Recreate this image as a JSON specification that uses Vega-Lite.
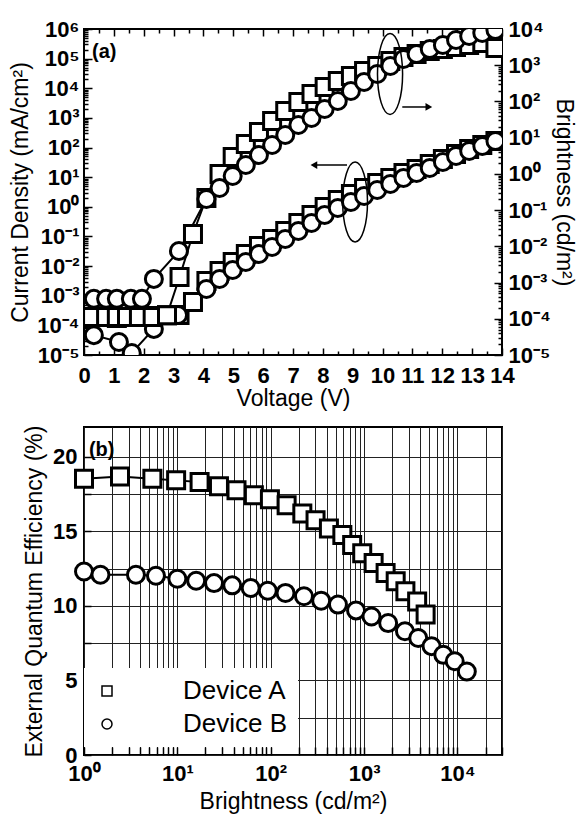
{
  "$schema": "https://vega.github.io/schema/vega-lite/v6.json",
  "background": "white",
  "padding": {"left": 8, "top": 17, "right": 2, "bottom": 2},
  "spacing": 13,
  "resolve": {"scale": {"shape": "independent"}, "legend": {"shape": "independent"}},
  "config": {
    "font": "Liberation Sans",
    "view": {"stroke": "black", "strokeWidth": 2},
    "axis": {
      "labelFont": "Liberation Sans", "labelFontWeight": "bold", "labelFontSize": 22, "labelColor": "black",
      "titleFont": "Liberation Sans", "titleFontWeight": "normal", "titleFontSize": 23, "titleColor": "black",
      "domain": false, "tickColor": "black", "tickWidth": 1.5, "grid": false,
      "labelOverlap": false, "labelBound": false, "labelFlush": false
    }
  },
  "datasets": {
    "jv": [
      {"device": "Device A", "V": 0.27, "J": 1.91e-4},
      {"device": "Device A", "V": 0.74, "J": 1.91e-4},
      {"device": "Device A", "V": 1.1, "J": 1.78e-4},
      {"device": "Device A", "V": 1.44, "J": 1.91e-4},
      {"device": "Device A", "V": 1.84, "J": 1.91e-4},
      {"device": "Device A", "V": 2.3, "J": 2.09e-4},
      {"device": "Device A", "V": 2.78, "J": 2.19e-4},
      {"device": "Device A", "V": 3.2, "J": 2.24e-4},
      {"device": "Device A", "V": 3.65, "J": 6.17e-4},
      {"device": "Device A", "V": 4.1, "J": 3.14e-3},
      {"device": "Device A", "V": 4.54, "J": 6.82e-3},
      {"device": "Device A", "V": 4.98, "J": 0.0137},
      {"device": "Device A", "V": 5.42, "J": 0.0256},
      {"device": "Device A", "V": 5.86, "J": 0.0476},
      {"device": "Device A", "V": 6.3, "J": 0.082},
      {"device": "Device A", "V": 6.74, "J": 0.153},
      {"device": "Device A", "V": 7.18, "J": 0.284},
      {"device": "Device A", "V": 7.62, "J": 0.528},
      {"device": "Device A", "V": 8.06, "J": 0.984},
      {"device": "Device A", "V": 8.5, "J": 1.69},
      {"device": "Device A", "V": 8.94, "J": 2.7},
      {"device": "Device A", "V": 9.38, "J": 4.31},
      {"device": "Device A", "V": 9.82, "J": 6.35},
      {"device": "Device A", "V": 10.26, "J": 9.38},
      {"device": "Device A", "V": 10.7, "J": 13.8},
      {"device": "Device A", "V": 11.14, "J": 18.8},
      {"device": "Device A", "V": 11.58, "J": 27.8},
      {"device": "Device A", "V": 12.02, "J": 41},
      {"device": "Device A", "V": 12.46, "J": 60.4},
      {"device": "Device A", "V": 12.9, "J": 89.1},
      {"device": "Device A", "V": 13.34, "J": 122},
      {"device": "Device A", "V": 13.78, "J": 166},
      {"device": "Device B", "V": 0.33, "J": 4.68e-5},
      {"device": "Device B", "V": 1.17, "J": 2.75e-5},
      {"device": "Device B", "V": 1.6, "J": 1.17e-5},
      {"device": "Device B", "V": 2.34, "J": 7.59e-5},
      {"device": "Device B", "V": 3.15, "J": 2.24e-4},
      {"device": "Device B", "V": 4.1, "J": 1.69e-3},
      {"device": "Device B", "V": 4.54, "J": 3.66e-3},
      {"device": "Device B", "V": 4.98, "J": 7.38e-3},
      {"device": "Device B", "V": 5.42, "J": 0.0137},
      {"device": "Device B", "V": 5.86, "J": 0.0256},
      {"device": "Device B", "V": 6.3, "J": 0.0441},
      {"device": "Device B", "V": 6.74, "J": 0.082},
      {"device": "Device B", "V": 7.18, "J": 0.153},
      {"device": "Device B", "V": 7.62, "J": 0.284},
      {"device": "Device B", "V": 8.06, "J": 0.528},
      {"device": "Device B", "V": 8.5, "J": 0.912},
      {"device": "Device B", "V": 8.94, "J": 1.45},
      {"device": "Device B", "V": 9.38, "J": 2.31},
      {"device": "Device B", "V": 9.82, "J": 3.69},
      {"device": "Device B", "V": 10.26, "J": 5.87},
      {"device": "Device B", "V": 10.7, "J": 9.38},
      {"device": "Device B", "V": 11.14, "J": 13.8},
      {"device": "Device B", "V": 11.58, "J": 20.4},
      {"device": "Device B", "V": 12.02, "J": 32.4},
      {"device": "Device B", "V": 12.46, "J": 51.8},
      {"device": "Device B", "V": 12.9, "J": 76.4},
      {"device": "Device B", "V": 13.34, "J": 112},
      {"device": "Device B", "V": 13.78, "J": 166}
    ],
    "lv": [
      {"device": "Device A", "V": 0.27, "L": 1.12e-4},
      {"device": "Device A", "V": 0.74, "L": 1.12e-4},
      {"device": "Device A", "V": 1.1, "L": 1.12e-4},
      {"device": "Device A", "V": 1.44, "L": 1.12e-4},
      {"device": "Device A", "V": 1.84, "L": 1.12e-4},
      {"device": "Device A", "V": 2.3, "L": 1.12e-4},
      {"device": "Device A", "V": 2.78, "L": 1.26e-4},
      {"device": "Device A", "V": 3.2, "L": 1.42e-3},
      {"device": "Device A", "V": 3.65, "L": 0.0219},
      {"device": "Device A", "V": 4.1, "L": 0.216},
      {"device": "Device A", "V": 4.54, "L": 0.993},
      {"device": "Device A", "V": 4.98, "L": 2.93},
      {"device": "Device A", "V": 5.42, "L": 6.68},
      {"device": "Device A", "V": 5.86, "L": 14.4},
      {"device": "Device A", "V": 6.3, "L": 28.8},
      {"device": "Device A", "V": 6.74, "L": 54.6},
      {"device": "Device A", "V": 7.18, "L": 96.6},
      {"device": "Device A", "V": 7.62, "L": 161},
      {"device": "Device A", "V": 8.06, "L": 251},
      {"device": "Device A", "V": 8.5, "L": 367},
      {"device": "Device A", "V": 8.94, "L": 505},
      {"device": "Device A", "V": 9.38, "L": 693},
      {"device": "Device A", "V": 9.82, "L": 953},
      {"device": "Device A", "V": 10.26, "L": 1310},
      {"device": "Device A", "V": 10.7, "L": 1690},
      {"device": "Device A", "V": 11.14, "L": 2040},
      {"device": "Device A", "V": 11.58, "L": 2470},
      {"device": "Device A", "V": 12.02, "L": 2810},
      {"device": "Device A", "V": 12.46, "L": 3190},
      {"device": "Device A", "V": 12.9, "L": 3620},
      {"device": "Device A", "V": 13.34, "L": 4110},
      {"device": "Device A", "V": 13.78, "L": 2990},
      {"device": "Device B", "V": 0.33, "L": 3.55e-4},
      {"device": "Device B", "V": 0.74, "L": 3.55e-4},
      {"device": "Device B", "V": 1.1, "L": 3.55e-4},
      {"device": "Device B", "V": 1.57, "L": 3.55e-4},
      {"device": "Device B", "V": 1.94, "L": 3.55e-4},
      {"device": "Device B", "V": 2.34, "L": 1.26e-3},
      {"device": "Device B", "V": 3.18, "L": 7.41e-3},
      {"device": "Device B", "V": 4.1, "L": 0.203},
      {"device": "Device B", "V": 4.54, "L": 0.408},
      {"device": "Device B", "V": 4.98, "L": 0.875},
      {"device": "Device B", "V": 5.42, "L": 1.76},
      {"device": "Device B", "V": 5.86, "L": 3.33},
      {"device": "Device B", "V": 6.3, "L": 6.28},
      {"device": "Device B", "V": 6.74, "L": 11.9},
      {"device": "Device B", "V": 7.18, "L": 22.4},
      {"device": "Device B", "V": 7.62, "L": 34.9},
      {"device": "Device B", "V": 8.06, "L": 61.9},
      {"device": "Device B", "V": 8.5, "L": 103},
      {"device": "Device B", "V": 8.94, "L": 195},
      {"device": "Device B", "V": 9.38, "L": 344},
      {"device": "Device B", "V": 9.82, "L": 573},
      {"device": "Device B", "V": 10.26, "L": 953},
      {"device": "Device B", "V": 10.7, "L": 1490},
      {"device": "Device B", "V": 11.14, "L": 2040},
      {"device": "Device B", "V": 11.58, "L": 2810},
      {"device": "Device B", "V": 12.02, "L": 3620},
      {"device": "Device B", "V": 12.46, "L": 4980},
      {"device": "Device B", "V": 12.9, "L": 6410},
      {"device": "Device B", "V": 13.34, "L": 7760},
      {"device": "Device B", "V": 13.78, "L": 9330}
    ],
    "eqe": [
      {"device": "Device A", "L": 1.0, "EQE": 18.53},
      {"device": "Device A", "L": 2.43, "EQE": 18.68},
      {"device": "Device A", "L": 5.4, "EQE": 18.53},
      {"device": "Device A", "L": 9.7, "EQE": 18.42},
      {"device": "Device A", "L": 17.3, "EQE": 18.31},
      {"device": "Device A", "L": 27.9, "EQE": 18.02},
      {"device": "Device A", "L": 43, "EQE": 17.75},
      {"device": "Device A", "L": 66, "EQE": 17.42},
      {"device": "Device A", "L": 98, "EQE": 17.15},
      {"device": "Device A", "L": 148, "EQE": 16.75},
      {"device": "Device A", "L": 218, "EQE": 16.2},
      {"device": "Device A", "L": 302, "EQE": 15.75},
      {"device": "Device A", "L": 420, "EQE": 15.2},
      {"device": "Device A", "L": 585, "EQE": 14.75},
      {"device": "Device A", "L": 745, "EQE": 14.08},
      {"device": "Device A", "L": 955, "EQE": 13.53},
      {"device": "Device A", "L": 1265, "EQE": 12.87},
      {"device": "Device A", "L": 1700, "EQE": 12.2},
      {"device": "Device A", "L": 2180, "EQE": 11.65},
      {"device": "Device A", "L": 2770, "EQE": 10.98},
      {"device": "Device A", "L": 3700, "EQE": 10.3},
      {"device": "Device A", "L": 4560, "EQE": 9.42},
      {"device": "Device B", "L": 1.0, "EQE": 12.31},
      {"device": "Device B", "L": 1.5, "EQE": 12.09},
      {"device": "Device B", "L": 3.6, "EQE": 12.09},
      {"device": "Device B", "L": 5.9, "EQE": 12.02},
      {"device": "Device B", "L": 10, "EQE": 11.82},
      {"device": "Device B", "L": 15.9, "EQE": 11.69},
      {"device": "Device B", "L": 24.7, "EQE": 11.53},
      {"device": "Device B", "L": 38.7, "EQE": 11.38},
      {"device": "Device B", "L": 61, "EQE": 11.2},
      {"device": "Device B", "L": 93, "EQE": 11.02},
      {"device": "Device B", "L": 144, "EQE": 10.87},
      {"device": "Device B", "L": 227, "EQE": 10.65},
      {"device": "Device B", "L": 347, "EQE": 10.35},
      {"device": "Device B", "L": 525, "EQE": 10.09},
      {"device": "Device B", "L": 820, "EQE": 9.7},
      {"device": "Device B", "L": 1200, "EQE": 9.29},
      {"device": "Device B", "L": 1810, "EQE": 8.85},
      {"device": "Device B", "L": 2740, "EQE": 8.3},
      {"device": "Device B", "L": 3800, "EQE": 7.85},
      {"device": "Device B", "L": 5280, "EQE": 7.3},
      {"device": "Device B", "L": 7050, "EQE": 6.72},
      {"device": "Device B", "L": 9350, "EQE": 6.29},
      {"device": "Device B", "L": 12600, "EQE": 5.6}
    ]
  },
  "vconcat": [
    {
      "width": 418,
      "height": 326,
      "layer": [
        {
          "encoding": {
            "x": {
              "field": "V", "type": "quantitative",
              "scale": {"domain": [0, 14], "nice": false, "zero": false},
              "axis": {
                "orient": "bottom", "title": "Voltage (V)",
                "values": [0,0.5,1,1.5,2,2.5,3,3.5,4,4.5,5,5.5,6,6.5,7,7.5,8,8.5,9,9.5,10,10.5,11,11.5,12,12.5,13,13.5,14],
                "labelExpr": "datum.value % 1 === 0 ? format(datum.value, 'd') : ''",
                "tickSize": {"condition": {"test": "datum.value % 1 === 0", "value": -7}, "value": -4},
                "labelPadding": 17, "titlePadding": -2
              }
            },
            "y": {
              "field": "J", "type": "quantitative",
              "scale": {"type": "log", "domain": [1e-5, 1e6], "nice": false},
              "axis": {
                "orient": "left", "title": "Current Density (mA/cm²)",
                "values": [1e-5,2e-5,3e-5,4e-5,5e-5,6e-5,7e-5,8e-5,9e-5,1e-4,2e-4,3e-4,4e-4,5e-4,6e-4,7e-4,8e-4,9e-4,1e-3,2e-3,3e-3,4e-3,5e-3,6e-3,7e-3,8e-3,9e-3,0.01,0.02,0.03,0.04,0.05,0.06,0.07,0.08,0.09,0.1,0.2,0.3,0.4,0.5,0.6,0.7,0.8,0.9,1,2,3,4,5,6,7,8,9,10,20,30,40,50,60,70,80,90,100,200,300,400,500,600,700,800,900,1000,2000,3000,4000,5000,6000,7000,8000,9000,10000,20000,30000,40000,50000,60000,70000,80000,90000,100000,200000,300000,400000,500000,600000,700000,800000,900000,1000000],
                "labelExpr": "abs(datum.value / pow(10, round(log(datum.value) / LN10)) - 1) < 1e-6 ? '10' + (round(log(datum.value) / LN10) < 0 ? '⁻' : '') + ['⁰','¹','²','³','⁴','⁵','⁶','⁷','⁸','⁹'][abs(round(log(datum.value) / LN10))] : ''",
                "tickSize": {"condition": {"test": "abs(datum.value / pow(10, round(log(datum.value) / LN10)) - 1) < 1e-6", "value": -8}, "value": -4},
                "labelPadding": 13, "titlePadding": 4, "labelBaseline": "middle"
              }
            }
          },
          "layer": [
            {"data": {"name": "jv"}, "mark": {"type": "line", "color": "black", "strokeWidth": 2, "clip": true}, "encoding": {"detail": {"field": "device"}}},
            {"data": {"name": "jv"}, "mark": {"type": "point", "filled": true, "fill": "white", "stroke": "black", "strokeWidth": 3, "size": 289, "opacity": 1, "clip": true},
             "encoding": {"shape": {"field": "device", "type": "nominal", "scale": {"domain": ["Device A", "Device B"], "range": ["square", "circle"]}, "legend": null}}},
            {"data": {"values": [{"V": 9.08, "J": 1.45}]},
             "mark": {"type": "point", "shape": "M0,-1C0.171,-1,0.31,-0.552,0.31,0C0.31,0.552,0.171,1,0,1C-0.171,1,-0.31,0.552,-0.31,0C-0.31,-0.552,-0.171,-1,0,-1Z", "size": 6400, "filled": false, "stroke": "black", "strokeWidth": 1.5, "opacity": 1}},
            {"data": {"values": [{"V": 8.81, "V2": 7.75, "J": 25.7}]}, "mark": {"type": "rule", "color": "black", "strokeWidth": 1.5}, "encoding": {"x2": {"field": "V2"}}},
            {"data": {"values": [{"V": 7.7, "J": 25.7}]}, "mark": {"type": "point", "shape": "triangle-left", "filled": true, "color": "black", "size": 60, "opacity": 1}},
            {"data": {"values": [{"V": 0.27, "J": 166000, "label": "(a)"}]},
             "mark": {"type": "text", "align": "left", "baseline": "middle", "fontWeight": "bold", "fontSize": 20, "font": "Liberation Sans", "color": "black"},
             "encoding": {"text": {"field": "label"}}}
          ]
        },
        {
          "encoding": {
            "x": {
              "field": "V", "type": "quantitative",
              "scale": {"domain": [0, 14], "nice": false, "zero": false},
              "axis": {
                "orient": "top", "title": null, "labels": false,
                "values": [0,0.5,1,1.5,2,2.5,3,3.5,4,4.5,5,5.5,6,6.5,7,7.5,8,8.5,9,9.5,10,10.5,11,11.5,12,12.5,13,13.5,14],
                "tickSize": {"condition": {"test": "datum.value % 1 === 0", "value": -7}, "value": -4}
              }
            },
            "y": {
              "field": "L", "type": "quantitative",
              "scale": {"type": "log", "domain": [1e-5, 1e4], "nice": false},
              "axis": {
                "orient": "right", "title": "Brightness (cd/m²)",
                "values": [1e-5,2e-5,3e-5,4e-5,5e-5,6e-5,7e-5,8e-5,9e-5,1e-4,2e-4,3e-4,4e-4,5e-4,6e-4,7e-4,8e-4,9e-4,1e-3,2e-3,3e-3,4e-3,5e-3,6e-3,7e-3,8e-3,9e-3,0.01,0.02,0.03,0.04,0.05,0.06,0.07,0.08,0.09,0.1,0.2,0.3,0.4,0.5,0.6,0.7,0.8,0.9,1,2,3,4,5,6,7,8,9,10,20,30,40,50,60,70,80,90,100,200,300,400,500,600,700,800,900,1000,2000,3000,4000,5000,6000,7000,8000,9000,10000],
                "labelExpr": "abs(datum.value / pow(10, round(log(datum.value) / LN10)) - 1) < 1e-6 ? '10' + (round(log(datum.value) / LN10) < 0 ? '⁻' : '') + ['⁰','¹','²','³','⁴','⁵','⁶','⁷','⁸','⁹'][abs(round(log(datum.value) / LN10))] : ''",
                "tickSize": {"condition": {"test": "abs(datum.value / pow(10, round(log(datum.value) / LN10)) - 1) < 1e-6", "value": -8}, "value": -4},
                "labelPadding": 14, "titlePadding": 1, "labelBaseline": "middle"
              }
            }
          },
          "layer": [
            {"data": {"name": "lv"}, "mark": {"type": "line", "color": "black", "strokeWidth": 2, "clip": true}, "encoding": {"detail": {"field": "device"}}},
            {"data": {"name": "lv"}, "mark": {"type": "point", "filled": true, "fill": "white", "stroke": "black", "strokeWidth": 3, "size": 289, "opacity": 1, "clip": true},
             "encoding": {"shape": {"field": "device", "type": "nominal", "scale": {"domain": ["Device A", "Device B"], "range": ["square", "circle"]}, "legend": null}}},
            {"data": {"values": [{"V": 10.25, "L": 573}]},
             "mark": {"type": "point", "shape": "M0,-1C0.171,-1,0.31,-0.552,0.31,0C0.31,0.552,0.171,1,0,1C-0.171,1,-0.31,0.552,-0.31,0C-0.31,-0.552,-0.171,-1,0,-1Z", "size": 6561, "filled": false, "stroke": "black", "strokeWidth": 1.5, "opacity": 1}},
            {"data": {"values": [{"V": 10.66, "V2": 11.5, "L": 70.3}]}, "mark": {"type": "rule", "color": "black", "strokeWidth": 1.5}, "encoding": {"x2": {"field": "V2"}}},
            {"data": {"values": [{"V": 11.55, "L": 70.3}]}, "mark": {"type": "point", "shape": "triangle-right", "filled": true, "color": "black", "size": 60, "opacity": 1}}
          ]
        }
      ],
      "resolve": {"scale": {"y": "independent"}}
    },
    {
      "width": 418,
      "height": 328,
      "encoding": {
        "x": {
          "field": "L", "type": "quantitative",
          "scale": {"type": "log", "domain": [1, 30000], "nice": false},
          "axis": {
            "title": "Brightness (cd/m²)",
            "values": [1,2,3,4,5,6,7,8,9,10,20,30,40,50,60,70,80,90,100,200,300,400,500,600,700,800,900,1000,2000,3000,4000,5000,6000,7000,8000,9000,10000,20000,30000],
            "labelExpr": "abs(datum.value / pow(10, round(log(datum.value) / LN10)) - 1) < 1e-6 ? '10' + ['⁰','¹','²','³','⁴','⁵','⁶','⁷','⁸','⁹'][abs(round(log(datum.value) / LN10))] : ''",
            "grid": true, "gridColor": "#222222", "gridWidth": 1, "gridOpacity": 1,
            "tickSize": -8, "labelPadding": 16, "titlePadding": 6
          }
        },
        "y": {
          "field": "EQE", "type": "quantitative",
          "scale": {"domain": [0, 22], "nice": false, "zero": true},
          "axis": {
            "title": "External Quantum Efficiency (%)",
            "values": [0,2.5,5,7.5,10,12.5,15,17.5,20],
            "labelExpr": "datum.value % 5 === 0 ? datum.label : ''",
            "grid": true, "gridColor": "#222222", "gridWidth": 1, "gridOpacity": 1,
            "tickSize": -7, "labelPadding": 14, "titlePadding": 6, "labelBaseline": "middle"
          }
        }
      },
      "layer": [
        {"data": {"name": "eqe"}, "mark": {"type": "line", "color": "black", "strokeWidth": 2, "clip": true}, "encoding": {"detail": {"field": "device"}}},
        {"data": {"name": "eqe"}, "mark": {"type": "point", "filled": false, "fill": "white", "color": "black", "strokeWidth": 3, "size": 289, "opacity": 1},
         "encoding": {"shape": {"field": "device", "type": "nominal", "scale": {"domain": ["Device A", "Device B"], "range": ["square", "circle"]},
           "legend": {
             "orient": "none", "legendX": 0, "legendY": 241, "title": null,
             "fillColor": "white", "padding": 10,
             "labelFontSize": 26, "labelFont": "Liberation Sans", "labelFontWeight": "normal", "labelColor": "black",
             "labelOffset": 63, "rowPadding": 7,
             "encode": {"symbols": {
               "shape": {"signal": "datum.value === 'Device A' ? 'M0.87,0L3.47,0M5.47,0L8.07,0M3.47,-1L5.47,-1L5.47,1L3.47,1Z' : 'M0.87,0L3.34,0M5.6,0L8.07,0M5.6,0C5.6,0.624,5.094,1.13,4.47,1.13C3.846,1.13,3.34,0.624,3.34,0C3.34,-0.624,3.846,-1.13,4.47,-1.13C5.094,-1.13,5.6,-0.624,5.6,0Z'"},
               "size": {"value": 289},
               "fill": {"value": "white"}, "stroke": {"value": "black"}, "strokeWidth": {"value": 3}, "opacity": {"value": 1}
             }}
           }}}},
        {"data": {"values": [{"L": 1.13, "EQE": 20.47, "label": "(b)"}]},
         "mark": {"type": "text", "align": "left", "baseline": "middle", "fontWeight": "bold", "fontSize": 20, "font": "Liberation Sans", "color": "black"},
         "encoding": {"text": {"field": "label"}}}
      ]
    }
  ]
}
